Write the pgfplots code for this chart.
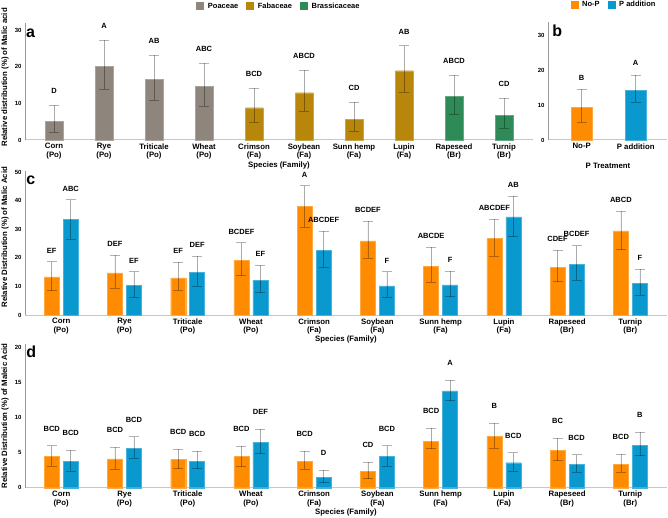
\documentclass[border=0pt]{standalone}
\usepackage{pgfplots}
\pgfplotsset{compat=1.18}
\usepackage{pgfplotstable}
\usepackage{fontspec}
\setmainfont{Liberation Sans}

\definecolor{poa}{HTML}{8E857C}
\definecolor{fab}{HTML}{B8860B}
\definecolor{bra}{HTML}{2E8B57}
\definecolor{nop}{HTML}{FF8C00}
\definecolor{padd}{HTML}{0A99CF}

% ---- panel a: malic acid by species (family colours)
\pgfplotstableread{
x y ep em lab
0 5.0 4.45 2.9 D
1 20.1 7.1 6.3 A
2 16.5 6.6 5.7 AB
3 14.6 6.3 5.4 ABC
}\poaTab
\pgfplotstableread{
x y ep em lab
4 8.8 5.3 4.0 BCD
5 12.9 6.1 5.0 ABCD
6 5.7 4.6 3.3 CD
7 18.9 6.8 5.9 AB
}\fabTab
\pgfplotstableread{
x y ep em lab
8 11.9 5.8 4.9 ABCD
9 6.7 4.7 3.4 CD
}\braTab

% ---- panel b: malic acid by P treatment
\pgfplotstableread{
x y ep em lab
0 9.4 5.1 4.4 B
}\bNo
\pgfplotstableread{
x y ep em lab
1 14.3 4.3 3.5 A
}\bP

% ---- panel c: malic acid, species x treatment
\pgfplotstableread{
x y ep em lab
0 13.3 5.4 4.8 EF
1 14.7 6.2 5.4 DEF
2 13.0 5.4 4.4 EF
3 19.2 6.1 5.4 BCDEF
4 38.0 7.2 7.2 A
5 25.9 6.8 6.1 BCDEF
6 17.1 6.6 5.6 ABCDE
7 26.7 6.9 6.2 ABCDEF
8 16.7 6.0 5.0 CDEF
9 29.4 6.9 6.5 ABCD
}\cNo
\pgfplotstableread{
x y ep em lab
0 33.4 6.9 6.9 ABC
1 10.3 4.9 4.0 EF
2 15.0 5.6 4.8 DEF
3 12.2 5.2 4.4 EF
4 22.6 6.6 5.9 ABCDEF
5 10.2 5.0 3.9 F
6 10.5 4.8 4.1 F
7 34.3 7.2 6.9 AB
8 17.7 6.6 5.6 BCDEF
9 11.0 5.0 4.1 F
}\cP

% ---- panel d: maleic acid, species x treatment
\pgfplotstableread{
x y ep em lab
0 4.47 1.52 1.37 BCD
1 4.09 1.66 1.49 BCD
2 4.00 1.46 1.30 BCD
3 4.42 1.52 1.42 BCD
4 3.75 1.43 1.15 BCD
5 2.28 1.32 1.00 CD
6 6.65 1.81 1.09 BCD
7 7.27 1.90 1.67 B
8 5.37 1.66 1.52 BC
9 3.37 1.38 1.17 BCD
}\dNo
\pgfplotstableread{
x y ep em lab
0 3.75 1.55 1.35 BCD
1 5.65 1.62 1.45 BCD
2 3.80 1.38 1.10 BCD
3 6.50 1.81 1.65 DEF
4 1.52 0.95 0.82 D
5 4.47 1.53 1.37 BCD
6 13.78 1.52 1.38 A
7 3.56 1.43 1.16 BCD
8 3.33 1.37 1.13 BCD
9 6.08 1.81 1.52 B
}\dP

\newcommand{\lblf}{\bfseries\fontsize{7.5}{8.5}\selectfont}
\newcommand{\tickf}{\bfseries\fontsize{6}{7}\selectfont}

\pgfplotsset{
  panel/.style={
    scale only axis, axis lines*=left, ymin=0, clip=false, enlargelimits=false,
    x axis line style={draw=black!22, line width=1pt},
    y axis line style={draw=black!40, line width=0.5pt},
    major tick length=0pt, tick style={draw=none},
    /pgf/number format/assume math mode=true,
    yticklabel style={font=\tickf},
    xticklabel style={font=\bfseries\fontsize{7.8}{8.8}\selectfont, align=center},
    label style={font=\bfseries\fontsize{7.8}{9}\selectfont},
    xlabel style={at={(axis description cs:0.5,0)}, anchor=center},
    legend style={draw=none, fill=none, font=\lblf,
      /tikz/every even column/.append style={column sep=6pt}},
  },
  sq/.style={legend image code/.code={
      \path[##1,draw=none] (0pt,-4pt) rectangle (8pt,4pt);
      \path[draw=none, fill=none] (0pt,0pt) rectangle (9.5pt,0.1pt);}},
  errs/.style={
    error bars/y dir=both, error bars/y explicit, error bars/error mark=|,
    error bars/error bar style={black, opacity=0.3, line width=0.6pt},
    error bars/error mark options={black, opacity=0.3, line width=0.6pt, mark size=5pt},
  },
  lab/.style={draw=none, forget plot, nodes near coords, point meta=explicit symbolic,
    nodes near coords style={font=\lblf, anchor=south, inner sep=0pt, yshift=#1}},
  species/.style={xtick={0,...,9},
    xticklabels={{Corn\\(Po)},{Rye\\(Po)},{Triticale\\(Po)},{Wheat\\(Po)},{Crimson\\(Fa)},
      {Soybean\\(Fa)},{Sunn hemp\\(Fa)},{Lupin\\(Fa)},{Rapeseed\\(Br)},{Turnip\\(Br)}}},
}

\begin{document}
\begin{tikzpicture}
\path[use as bounding box] (0,0) rectangle (668pt,517pt);

% ===== a
\begin{axis}[panel, species, at={(25pt,377pt)}, anchor=south west,
  width=508pt, height=117.3pt, xmin=-0.58, xmax=9.58, ymax=32, ytick={0,10,20,30},
  xlabel={Species (Family)}, xlabel style={yshift=-25pt},
  ylabel={Relative distribution (\%) of Malic acid},
  ylabel style={at={(axis description cs:-0.039,0.534)}, anchor=center},
  legend columns=3,
  legend style={at={(axis description cs:0.50,1.14)}, anchor=center}]
\addplot[ybar, bar width=0.35, bar shift=0pt, fill=poa, draw=poa!75!white, sq, errs]
  table[x=x, y=y, y error plus=ep, y error minus=em]{\poaTab};
\addplot[ybar, bar width=0.35, bar shift=0pt, fill=fab, draw=fab!75!white, sq, errs]
  table[x=x, y=y, y error plus=ep, y error minus=em]{\fabTab};
\addplot[ybar, bar width=0.35, bar shift=0pt, fill=bra, draw=bra!75!white, sq, errs]
  table[x=x, y=y, y error plus=ep, y error minus=em]{\braTab};
\legend{Poaceae, Fabaceae, Brassicaceae}
\addplot[lab=11.3pt] table[x=x, y expr=\thisrow{y}+\thisrow{ep}, meta=lab]{\poaTab};
\addplot[lab=11.3pt] table[x=x, y expr=\thisrow{y}+\thisrow{ep}, meta=lab]{\fabTab};
\addplot[lab=11.3pt] table[x=x, y expr=\thisrow{y}+\thisrow{ep}, meta=lab]{\braTab};
\node[font=\bfseries\fontsize{16}{16}\selectfont, anchor=base west, inner sep=0pt]
  at (rel axis cs:0.002,0.873) {a};
\end{axis}

% ===== b
\begin{axis}[panel, at={(548pt,377pt)}, anchor=south west,
  width=119pt, height=118pt, xmin=-0.624, xmax=1.58, ymax=33.7, ytick={0,10,20,30},
  xtick={0,1}, xticklabels={No-P, P addition},
  xlabel={P Treatment},
  xlabel style={at={(axis description cs:0.504,0)}, yshift=-26pt},
  legend columns=2,
  legend style={at={(axis description cs:0.555,1.144)}, anchor=center}]
\addplot[ybar, bar width=0.40, bar shift=0pt, fill=nop, draw=nop!75!white, sq, errs]
  table[x=x, y=y, y error plus=ep, y error minus=em]{\bNo};
\addplot[ybar, bar width=0.40, bar shift=0pt, fill=padd, draw=padd!75!white, sq, errs]
  table[x=x, y=y, y error plus=ep, y error minus=em]{\bP};
\legend{No-P, P addition}
\addplot[lab=9pt] table[x=x, y expr=\thisrow{y}+\thisrow{ep}, meta=lab]{\bNo};
\addplot[lab=9pt] table[x=x, y expr=\thisrow{y}+\thisrow{ep}, meta=lab]{\bP};
\node[font=\bfseries\fontsize{16}{16}\selectfont, anchor=base west, inner sep=0pt]
  at (rel axis cs:0.034,0.873) {b};
\end{axis}

% ===== c
\begin{axis}[panel, species, at={(25pt,202pt)}, anchor=south west,
  width=642pt, height=144pt, xmin=-0.573, xmax=9.58, ymax=50.35, ytick={0,10,...,50},
  xlabel={Species (Family)}, xlabel style={yshift=-24pt},
  ylabel={Relative Distribution (\%) of Malic Acid},
  ylabel style={at={(axis description cs:-0.031,0.54)}, anchor=center}]
\addplot[ybar, bar width=0.237, bar shift=0pt, fill=nop, draw=nop!75!white, errs]
  table[x expr=\thisrow{x}-0.15, y=y, y error plus=ep, y error minus=em]{\cNo};
\addplot[ybar, bar width=0.237, bar shift=0pt, fill=padd, draw=padd!75!white, errs]
  table[x expr=\thisrow{x}+0.15, y=y, y error plus=ep, y error minus=em]{\cP};
\addplot[lab=8.3pt] table[x expr=\thisrow{x}-0.15, y expr=\thisrow{y}+\thisrow{ep}, meta=lab]{\cNo};
\addplot[lab=8.3pt] table[x expr=\thisrow{x}+0.15, y expr=\thisrow{y}+\thisrow{ep}, meta=lab]{\cP};
\node[font=\bfseries\fontsize{16}{16}\selectfont, anchor=base west, inner sep=0pt]
  at (rel axis cs:0.002,0.903) {c};
\end{axis}

% ===== d
\begin{axis}[panel, species, at={(25pt,29.3pt)}, anchor=south west,
  width=642pt, height=143.7pt, xmin=-0.573, xmax=9.58, ymax=20.47, ytick={0,5,...,20},
  xlabel={Species (Family)}, xlabel style={yshift=-25pt},
  ylabel={Relative Distribution (\%) of Maleic Acid},
  ylabel style={at={(axis description cs:-0.031,0.50)}, anchor=center}]
\addplot[ybar, bar width=0.237, bar shift=0pt, fill=nop, draw=nop!75!white, errs]
  table[x expr=\thisrow{x}-0.15, y=y, y error plus=ep, y error minus=em]{\dNo};
\addplot[ybar, bar width=0.237, bar shift=0pt, fill=padd, draw=padd!75!white, errs]
  table[x expr=\thisrow{x}+0.15, y=y, y error plus=ep, y error minus=em]{\dP};
\addplot[lab=14.3pt] table[x expr=\thisrow{x}-0.15, y expr=\thisrow{y}+\thisrow{ep}, meta=lab]{\dNo};
\addplot[lab=14.3pt] table[x expr=\thisrow{x}+0.15, y expr=\thisrow{y}+\thisrow{ep}, meta=lab]{\dP};
\node[font=\bfseries\fontsize{16}{16}\selectfont, anchor=base west, inner sep=0pt]
  at (rel axis cs:0.002,0.903) {d};
\end{axis}
\end{tikzpicture}
\end{document}
